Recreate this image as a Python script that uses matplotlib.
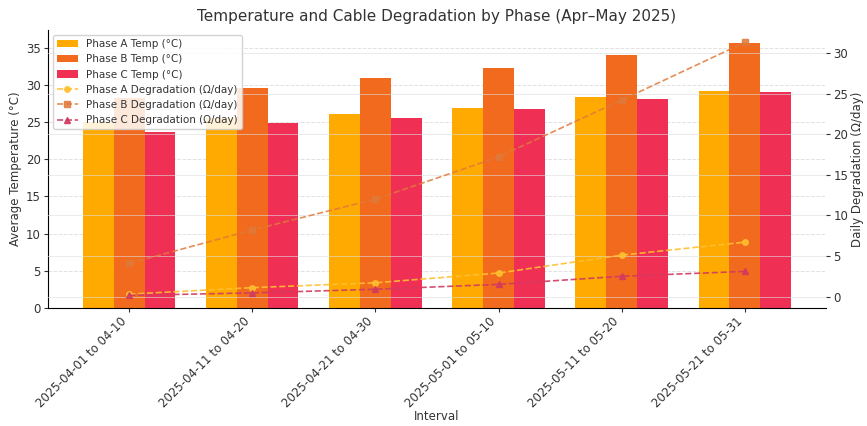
import numpy as np
import matplotlib
matplotlib.use("Agg")
import matplotlib.pyplot as plt

intervals = ["2025-04-01 to 04-10", "2025-04-11 to 04-20", "2025-04-21 to 04-30",
             "2025-05-01 to 05-10", "2025-05-11 to 05-20", "2025-05-21 to 05-31"]
temp_a = [25.0, 25.5, 26.1, 26.9, 28.3, 29.2]
temp_b = [28.2, 29.5, 30.9, 32.3, 34.0, 35.6]
temp_c = [23.6, 24.8, 25.5, 26.7, 28.1, 29.0]
deg_a = [0.3, 1.1, 1.7, 2.9, 5.1, 6.7]
deg_b = [4.1, 8.2, 12.0, 17.2, 24.2, 31.3]
deg_c = [0.15, 0.45, 0.9, 1.5, 2.5, 3.1]

col_a = "#FFAA00"
col_b = "#F26A1E"
col_c = "#F02F55"

x = np.arange(len(intervals))
w = 0.25

fig, ax1 = plt.subplots(figsize=(8.67, 4.26), dpi=100)
fig.subplots_adjust(left=0.055, right=0.953, bottom=0.277, top=0.93)

b1 = ax1.bar(x - w, temp_a, w, color=col_a, label="Phase A Temp (°C)")
b2 = ax1.bar(x, temp_b, w, color=col_b, label="Phase B Temp (°C)")
b3 = ax1.bar(x + w, temp_c, w, color=col_c, label="Phase C Temp (°C)")
ax1.set_ylabel("Average Temperature (°C)", fontsize=8.5, color="#333333", labelpad=3)
ax1.set_xlabel("Interval", fontsize=8.5, color="#333333", labelpad=0)
ax1.set_xticks(x)
ax1.set_xticklabels(intervals, rotation=45, ha="right", fontsize=8.5, color="#333333")
ax1.tick_params(axis="both", labelsize=8.5, colors="#333333", length=3, pad=2)
ax1.grid(True, axis="y", color="#cccccc", linestyle="--", linewidth=0.7, alpha=0.6)
ax1.set_axisbelow(True)

ax2 = ax1.twinx()
l1, = ax2.plot(x, deg_a, "--o", color="#FFC030", lw=1.2, ms=4, alpha=0.9,
               label="Phase A Degradation (Ω/day)")
l2, = ax2.plot(x, deg_b, "--s", color="#E07A3A", lw=1.2, ms=4, alpha=0.85,
               label="Phase B Degradation (Ω/day)")
l3, = ax2.plot(x, deg_c, "--^", color="#D03A60", lw=1.2, ms=4, alpha=0.9,
               label="Phase C Degradation (Ω/day)")
ax2.set_ylabel("Daily Degradation (Ω/day)", fontsize=8.5, color="#333333", labelpad=2)
ax2.tick_params(axis="y", labelsize=8.5, colors="#333333", length=3, pad=2)
ax2.grid(True, color="#dddddd", linestyle="-", linewidth=0.7, alpha=0.6)

for a in (ax1, ax2):
    a.spines["top"].set_visible(False)
    a.spines["right"].set_visible(False)
ax2.spines["left"].set_visible(False)
ax2.spines["bottom"].set_visible(False)

ax1.set_title("Temperature and Cable Degradation by Phase (Apr–May 2025)",
              fontsize=11, color="#333333")

handles = [b1, b2, b3, l1, l2, l3]
ax2.legend(handles, [h.get_label() for h in handles], loc="upper left",
           fontsize=7.5, framealpha=0.85, labelcolor="#333333")

fig.savefig("out.png", dpi=100)
